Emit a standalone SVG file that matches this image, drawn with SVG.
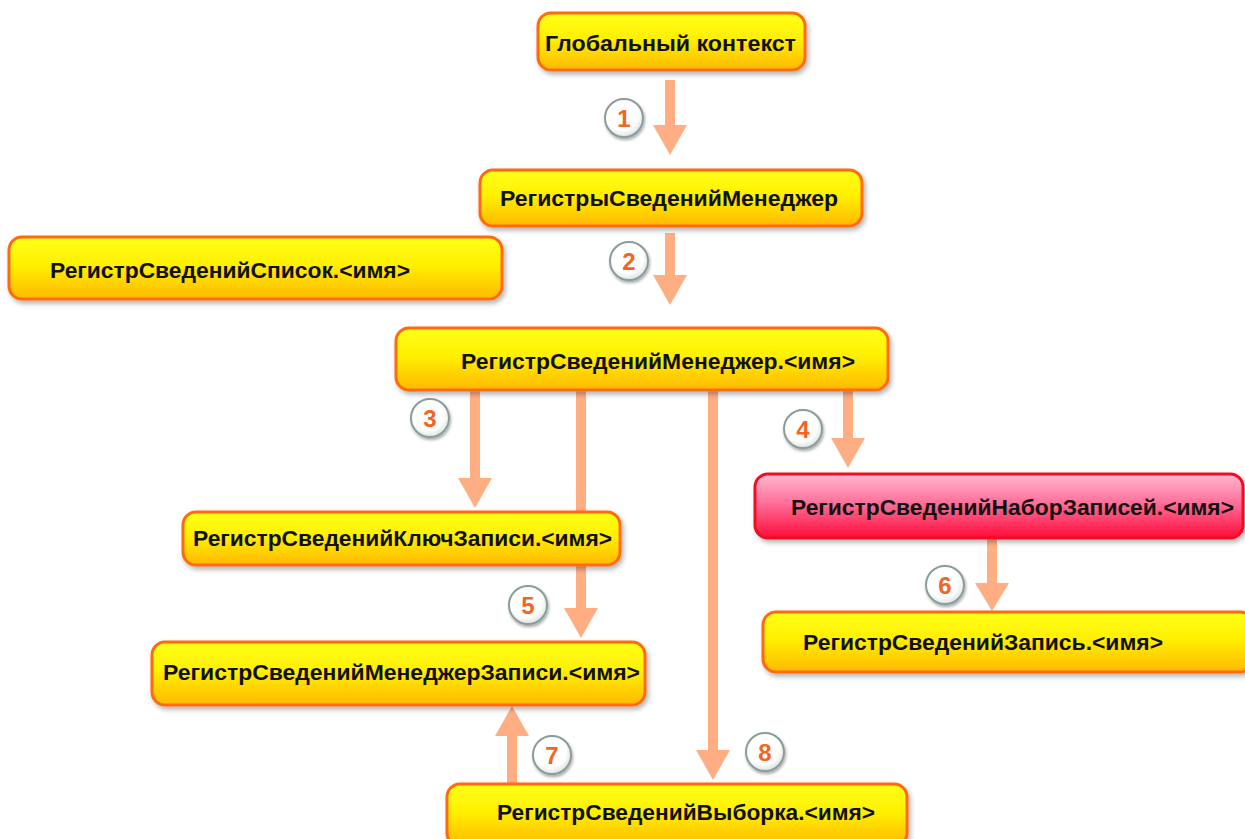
<svg xmlns="http://www.w3.org/2000/svg" width="1245" height="839" viewBox="0 0 1245 839">
<defs>
<linearGradient id="gY" x1="0" y1="0" x2="0" y2="1">
<stop offset="0" stop-color="#FFFF1A"/>
<stop offset="0.45" stop-color="#FFF000"/>
<stop offset="1" stop-color="#FFB800"/>
</linearGradient>
<linearGradient id="gR" x1="0" y1="0" x2="0" y2="1">
<stop offset="0" stop-color="#FFB8D0"/>
<stop offset="0.45" stop-color="#FF6F9A"/>
<stop offset="1" stop-color="#FF0A3A"/>
</linearGradient>
<filter id="sh" x="-10%" y="-30%" width="120%" height="170%">
<feDropShadow dx="2" dy="3" stdDeviation="2.5" flood-color="#000" flood-opacity="0.3"/>
</filter>
<filter id="csh" x="-40%" y="-40%" width="180%" height="180%">
<feDropShadow dx="1" dy="2" stdDeviation="1.5" flood-color="#000" flood-opacity="0.35"/>
</filter>
<radialGradient id="gC" cx="0.45" cy="0.4" r="0.6">
<stop offset="0.7" stop-color="#FFFFFF"/>
<stop offset="1" stop-color="#DDE3E3"/>
</radialGradient>
</defs>
<style>
.box{fill:url(#gY);stroke:#FF6A10;stroke-width:3;filter:url(#sh)}
.red{fill:url(#gR);stroke:#F01020;stroke-width:3;filter:url(#sh)}
.t{font-family:"Liberation Sans",Arial,sans-serif;font-weight:bold;font-size:22px;fill:#111}
.ar{fill:#FFAE84}
.sh{stroke:#FFAE84;stroke-width:10;fill:none}
.c{fill:url(#gC);stroke:#8A9C9C;stroke-width:2;filter:url(#csh)}
.n{font-family:"Liberation Sans",Arial,sans-serif;font-weight:bold;font-size:24px;fill:#F26522;text-anchor:middle}
</style>
<rect width="1245" height="839" fill="#FFFFFF"/>

<g id="connectors">
<line class="sh" x1="670" y1="80" x2="670" y2="127"/>
<polygon class="ar" points="653,125 687,125 670,155"/>
<line class="sh" x1="670" y1="233" x2="670" y2="277"/>
<polygon class="ar" points="653,275 687,275 670,305"/>
<line class="sh" x1="475" y1="391" x2="475" y2="480"/>
<polygon class="ar" points="458,478 492,478 475,508"/>
<line class="sh" x1="581" y1="391" x2="581" y2="512"/>
<line class="sh" x1="581" y1="566" x2="581" y2="610"/>
<polygon class="ar" points="564,608 598,608 581,638"/>
<line class="sh" x1="713" y1="391" x2="713" y2="752"/>
<polygon class="ar" points="696,750 730,750 713,780"/>
<line class="sh" x1="848" y1="391" x2="848" y2="440"/>
<polygon class="ar" points="831,438 865,438 848,468"/>
<line class="sh" x1="992" y1="539" x2="992" y2="585"/>
<polygon class="ar" points="975,583 1009,583 992,611"/>
<line class="sh" x1="512" y1="784" x2="512" y2="734"/>
<polygon class="ar" points="495,736 529,736 512,706"/>
</g>

<g id="labels">
<circle class="c" cx="624" cy="118" r="19"/><text class="n" x="624" y="127">1</text>
<circle class="c" cx="629" cy="261" r="19"/><text class="n" x="629" y="270">2</text>
<circle class="c" cx="430" cy="418" r="19"/><text class="n" x="430" y="427">3</text>
<circle class="c" cx="803" cy="429" r="19"/><text class="n" x="803" y="438">4</text>
<circle class="c" cx="528" cy="605" r="19"/><text class="n" x="528" y="614">5</text>
<circle class="c" cx="945" cy="585" r="19"/><text class="n" x="945" y="594">6</text>
<circle class="c" cx="552" cy="755" r="19"/><text class="n" x="552" y="764">7</text>
<circle class="c" cx="765" cy="752" r="19"/><text class="n" x="765" y="761">8</text>
</g>

<g id="node-global">
<rect class="box" x="538" y="13" width="267" height="57" rx="13"/>
<text class="t" x="545" y="51" textLength="251" lengthAdjust="spacingAndGlyphs">Глобальный контекст</text>
</g>
<g id="node-managers">
<rect class="box" x="480" y="170" width="382" height="56" rx="13"/>
<text class="t" x="500" y="206" textLength="338" lengthAdjust="spacingAndGlyphs">РегистрыСведенийМенеджер</text>
</g>
<g id="node-list">
<rect class="box" x="9" y="237" width="493" height="62" rx="13"/>
<text class="t" x="50" y="278" textLength="360" lengthAdjust="spacingAndGlyphs">РегистрСведенийСписок.&lt;имя&gt;</text>
</g>
<g id="node-manager">
<rect class="box" x="396" y="328" width="492" height="62" rx="13"/>
<text class="t" x="461" y="369" textLength="394" lengthAdjust="spacingAndGlyphs">РегистрСведенийМенеджер.&lt;имя&gt;</text>
</g>
<g id="node-key">
<rect class="box" x="183" y="512" width="437" height="53" rx="13"/>
<text class="t" x="193" y="546" textLength="419" lengthAdjust="spacingAndGlyphs">РегистрСведенийКлючЗаписи.&lt;имя&gt;</text>
</g>
<g id="node-recordset">
<rect class="red" x="755" y="474" width="488" height="64" rx="13"/>
<text class="t" x="791" y="515" textLength="443" lengthAdjust="spacingAndGlyphs">РегистрСведенийНаборЗаписей.&lt;имя&gt;</text>
</g>
<g id="node-record">
<rect class="box" x="763" y="612" width="490" height="60" rx="13"/>
<text class="t" x="803" y="650" textLength="360" lengthAdjust="spacingAndGlyphs">РегистрСведенийЗапись.&lt;имя&gt;</text>
</g>
<g id="node-recordmanager">
<rect class="box" x="152" y="642" width="493" height="63" rx="13"/>
<text class="t" x="163" y="680" textLength="477" lengthAdjust="spacingAndGlyphs">РегистрСведенийМенеджерЗаписи.&lt;имя&gt;</text>
</g>
<g id="node-selection">
<rect class="box" x="447" y="784" width="460" height="62" rx="13"/>
<text class="t" x="497" y="820" textLength="378" lengthAdjust="spacingAndGlyphs">РегистрСведенийВыборка.&lt;имя&gt;</text>
</g>
</svg>
